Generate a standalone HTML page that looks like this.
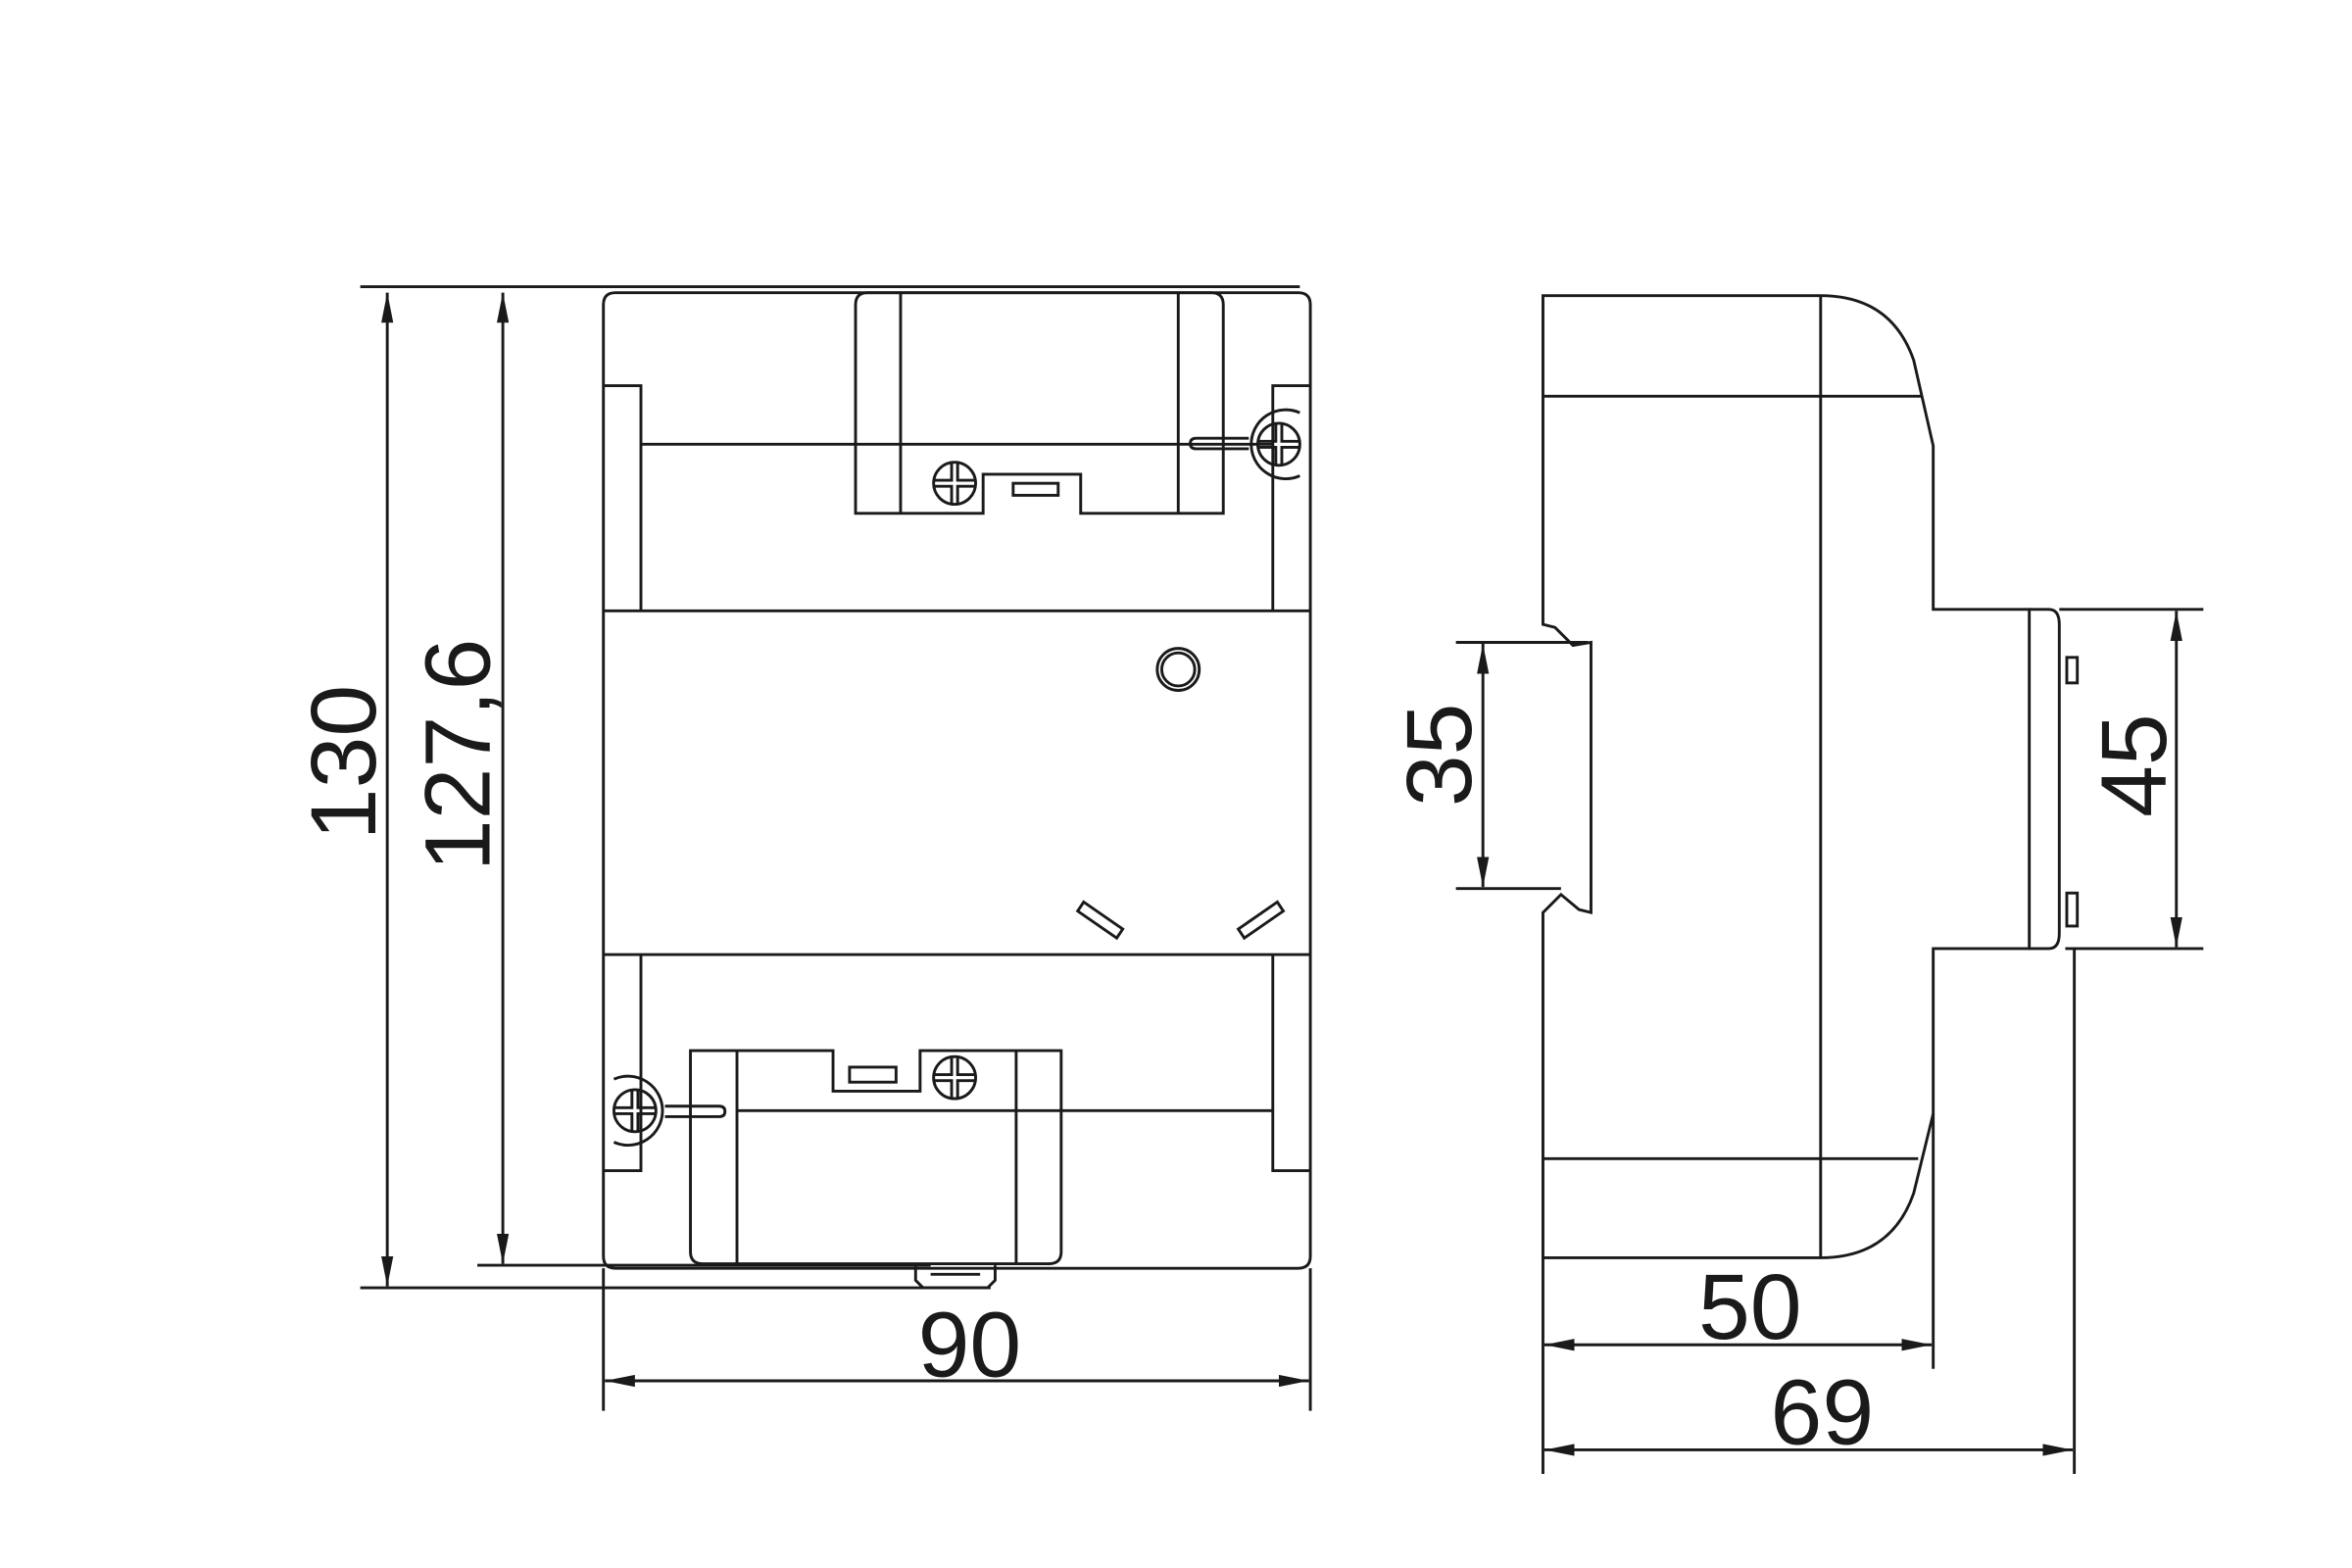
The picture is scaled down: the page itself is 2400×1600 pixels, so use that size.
<!DOCTYPE html>
<html><head><meta charset="utf-8"><style>
html,body{margin:0;padding:0;background:#fff;}
svg{display:block}
text{font-family:"Liberation Sans Narrow","Liberation Sans",sans-serif;fill:#1a1a1a;}
</style></head><body>
<svg width="2400" height="1600" viewBox="0 0 1567 1044.7" xmlns="http://www.w3.org/2000/svg">
<defs>
<marker id="a" viewBox="0 0 20 8" refX="20" refY="4" markerWidth="20" markerHeight="8" markerUnits="userSpaceOnUse" orient="auto-start-reverse"><path d="M0,0 L20,4 L0,8 Z" fill="#1a1a1a"/></marker>
</defs>
<g fill="none" stroke="#1a1a1a" stroke-width="1.9">
<path d="M410,195 H865 Q873,195 873,203 V837 Q873,845 865,845 H410 Q402,845 402,837 V203 Q402,195 410,195 Z"/>
<line x1="240" y1="191" x2="866" y2="191"/>
<line x1="240" y1="858" x2="660" y2="858"/>
<line x1="318" y1="843" x2="620" y2="843"/>
<line x1="258" y1="195" x2="258" y2="857" marker-start="url(#a)" marker-end="url(#a)"/>
<line x1="335" y1="195" x2="335" y2="842" marker-start="url(#a)" marker-end="url(#a)"/>
<path d="M570,342 V203 Q570,195 578,195 H807 Q815,195 815,203 V342 H720 V316 H655 V342 Z"/>
<line x1="600" y1="195" x2="600" y2="342"/>
<line x1="785" y1="195" x2="785" y2="342"/>
<rect x="675" y="322" width="30" height="8"/>
<line x1="427" y1="296" x2="848" y2="296"/>
<path d="M402,257 H427 V407"/>
<path d="M873,257 H848 V407"/>
<line x1="402" y1="407" x2="873" y2="407"/>
<line x1="402" y1="636" x2="873" y2="636"/>
<circle cx="785" cy="446" r="14"/><circle cx="785" cy="446" r="11"/>
<circle cx="636" cy="322" r="14"/>
<path d="M622,320 H634 V308 M638,308 V320 H650 M650,324 H638 V336 M634,336 V324 H622"/>
<path d="M866,275 A23,23 0 1 0 866,317"/>
<circle cx="852" cy="296" r="14"/>
<path d="M838,294 H850 V282 M854,282 V294 H866 M866,298 H854 V310 M850,310 V298 H838"/>
<path d="M832,292 H797 Q793,292 793,295.5 Q793,299 797,299 H832"/>
<path d="M722,601 L748,619 L744,625 L718,607 Z"/>
<path d="M851,601 L825,619 L829,625 L855,607 Z"/>
<path d="M402,780 H427 V636"/>
<path d="M873,780 H848 V636"/>
<path d="M460,700 V834 Q460,842 468,842 H699 Q707,842 707,834 V700 H613 V727 H555 V700 Z"/>
<line x1="491" y1="700" x2="491" y2="842"/>
<line x1="677" y1="700" x2="677" y2="842"/>
<rect x="566" y="711" width="31" height="10"/>
<line x1="491" y1="740" x2="848" y2="740"/>
<circle cx="636" cy="718" r="14"/>
<path d="M622,716 H634 V704 M638,704 V716 H650 M650,720 H638 V732 M634,732 V720 H622"/>
<path d="M409,719 A23,23 0 1 1 409,761"/>
<circle cx="423" cy="740" r="14"/>
<path d="M409,738 H421 V726 M425,726 V738 H437 M437,742 H425 V754 M421,754 V742 H409"/>
<path d="M443,737 H479 Q483,737 483,740.5 Q483,744 479,744 H443"/>
<path d="M610,843 V853 L615,858 H658 L663,853 V843"/>
<line x1="620" y1="849" x2="653" y2="849"/>
<line x1="402" y1="845" x2="402" y2="940"/>
<line x1="873" y1="845" x2="873" y2="940"/>
<line x1="403" y1="920" x2="872" y2="920" marker-start="url(#a)" marker-end="url(#a)"/>

<path d="M1028,197 H1213 Q1260,197 1275,240 L1288,297 V406 H1352 V632 H1288 V742 L1275,795 Q1260,838 1213,838 H1028 V608 L1040,596 L1052,606 L1060,608 V428 L1048,430 L1036,418 L1028,416 Z"/>
<line x1="1213" y1="197" x2="1213" y2="838"/>
<line x1="1028" y1="264" x2="1280" y2="264"/>
<line x1="1028" y1="772" x2="1278" y2="772"/>
<path d="M1352,406 H1365 Q1372,406 1372,416 V622 Q1372,632 1365,632 H1352"/>
<rect x="1377" y="438" width="7" height="17"/>
<rect x="1377" y="595" width="7" height="22"/>
<line x1="1372" y1="406" x2="1468" y2="406"/>
<line x1="1376" y1="632" x2="1468" y2="632"/>
<line x1="1450" y1="407" x2="1450" y2="631" marker-start="url(#a)" marker-end="url(#a)"/>
<line x1="970" y1="428" x2="1058" y2="428"/>
<line x1="970" y1="592" x2="1040" y2="592"/>
<line x1="988" y1="429" x2="988" y2="591" marker-start="url(#a)" marker-end="url(#a)"/>
<line x1="1028" y1="838" x2="1028" y2="982"/>
<line x1="1288" y1="742" x2="1288" y2="912"/>
<line x1="1382" y1="632" x2="1382" y2="982"/>
<line x1="1029" y1="896" x2="1287" y2="896" marker-start="url(#a)" marker-end="url(#a)"/>
<line x1="1029" y1="966" x2="1381" y2="966" marker-start="url(#a)" marker-end="url(#a)"/>
</g>
<g font-size="62">
<text x="646" y="917" text-anchor="middle">90</text>
<text x="1166" y="892" text-anchor="middle">50</text>
<text x="1214" y="962" text-anchor="middle">69</text>
<text transform="translate(250,508) rotate(-90)" text-anchor="middle">130</text>
<text transform="translate(326,503) rotate(-90)" text-anchor="middle">127,6</text>
<text transform="translate(980,503) rotate(-90)" text-anchor="middle">35</text>
<text transform="translate(1443,510) rotate(-90)" text-anchor="middle">45</text>
</g>
</svg>
</body></html>
